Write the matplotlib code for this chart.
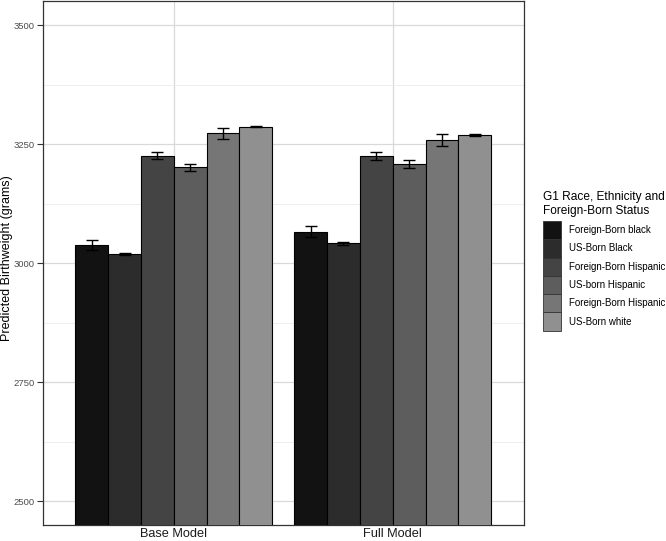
import numpy as np
import matplotlib.pyplot as plt
from matplotlib.patches import Patch

plt.rcParams['font.family'] = ['Liberation Sans', 'DejaVu Sans']

# data
models = ['Base Model', 'Full Model']
groups = ['Foreign-Born black', 'US-Born Black', 'Foreign-Born Hispanic',
          'US-born Hispanic', 'Foreign-Born Hispanic', 'US-Born white']
base_vals = [3038, 3020, 3226, 3201, 3273, 3287]
base_err = [11, 2, 6.5, 7.5, 11.5, 2]
full_vals = [3066, 3042, 3225, 3208, 3258, 3269]
full_err = [11, 3, 7.5, 8, 12.5, 2]
greys = ['#121212', '#2c2c2c', '#444444', '#5d5d5d', '#767676', '#909090']

fig = plt.figure(figsize=(6.66, 5.41), dpi=100)
ax = fig.add_axes([42.5 / 666, 0.0296, 481.5 / 666, 0.968])

vals = np.array([base_vals, full_vals])
errs = np.array([base_err, full_err])
xpos = np.arange(1, len(models) + 1)
n = len(groups)
w = 0.9 / n
for i in range(n):
    x = xpos - 0.45 + w * (i + 0.5)
    ax.bar(x, vals[:, i] - 2400, width=w, bottom=2400, color=greys[i],
           edgecolor='black', linewidth=0.8, zorder=3)
    ax.errorbar(x, vals[:, i], yerr=errs[:, i], fmt='none', ecolor='black',
                elinewidth=1.0, capsize=4.5, capthick=1.0, zorder=4)

ax.set_ylim(2450, 3550)
ax.set_xlim(0.4, 2.6)
ax.set_yticks([2500, 2750, 3000, 3250, 3500])
ax.set_yticks([2625, 2875, 3125, 3375], minor=True)
ax.set_xticks(xpos)
ax.set_xticklabels(models)
ax.tick_params(axis='y', which='minor', length=0)
ax.tick_params(axis='y', which='major', length=4.5, width=0.8, color='#333333',
               labelsize=6.8, labelcolor='#4d4d4d', pad=1)
ax.tick_params(axis='x', which='major', length=0, labelsize=9.2,
               labelcolor='#1a1a1a', pad=2)
ax.grid(True, which='major', color='#d9d9d9', linewidth=0.9, zorder=0)
ax.grid(True, which='minor', axis='y', color='#ebebeb', linewidth=0.6, zorder=0)
ax.set_axisbelow(True)
for s in ax.spines.values():
    s.set_color('#333333')
    s.set_linewidth(0.9)
fig.text(7 / 666, 0.523, 'Predicted Birthweight (grams)', fontsize=9,
         rotation=90, ha='center', va='center')

handles = [Patch(facecolor=greys[i], edgecolor='#333333', linewidth=0.6)
           for i in range(n)]
leg = fig.legend(handles, groups, loc='upper left', bbox_to_anchor=(0.815, 0.647),
                 title='G1 Race, Ethnicity and\nForeign-Born Status',
                 frameon=False, fontsize=7, title_fontsize=8.6,
                 handlelength=1.85, handleheight=2.52, handletextpad=0.8,
                 labelspacing=0.0, borderaxespad=0, borderpad=0)
leg._legend_box.align = 'left'
leg._legend_box.sep = 3

fig.savefig('out.png', dpi=100)
